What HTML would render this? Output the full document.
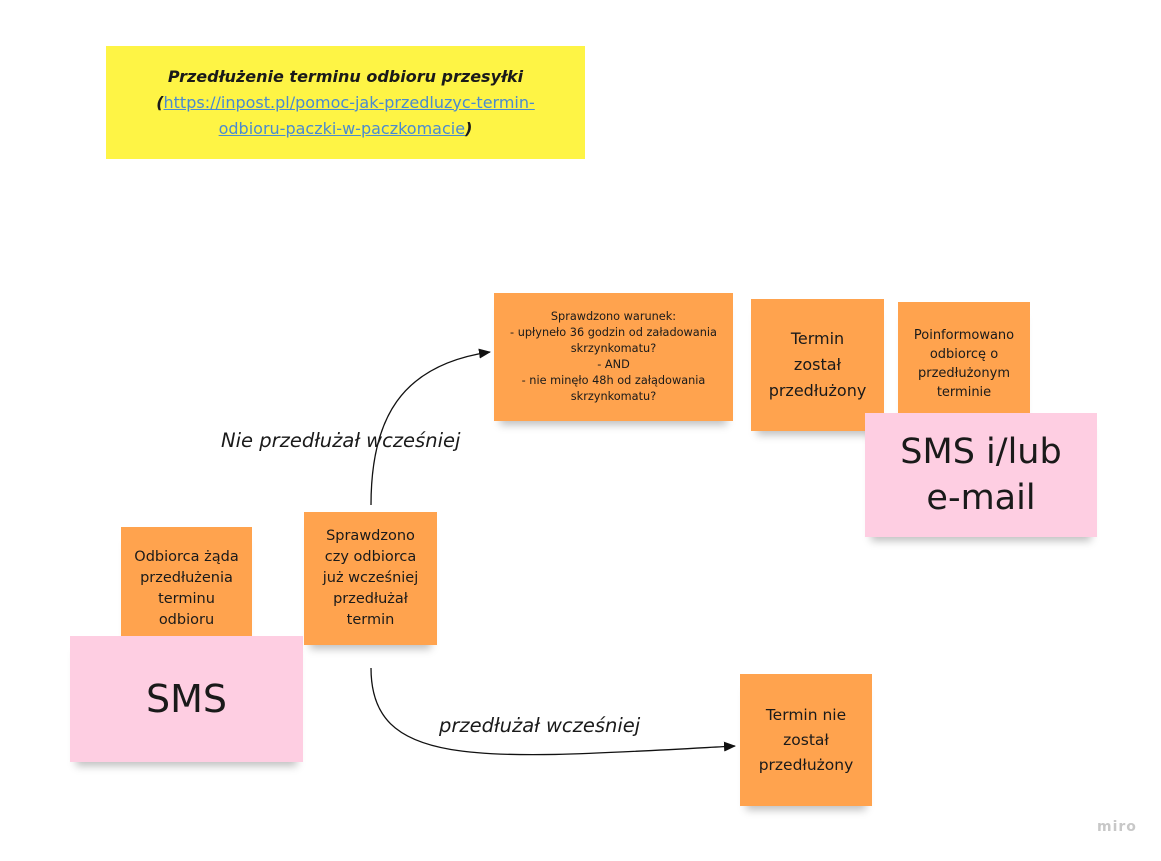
<!DOCTYPE html>
<html><head><meta charset="utf-8"><style>
body{margin:0;width:1161px;height:861px;background:#fff;position:relative;overflow:hidden;font-family:"DejaVu Sans","Liberation Sans",sans-serif;}
.n{position:absolute;display:flex;align-items:center;justify-content:center;text-align:center;color:#1a1a1a;box-shadow:0 10px 8px -6px rgba(0,0,0,0.25);box-sizing:border-box;}
.o{background:#ffa34e;font-size:14.5px;line-height:21px;}
.p{background:#fecee2;}
.l{position:absolute;font-style:italic;font-size:19.5px;color:#1a1a1a;white-space:nowrap;}
</style></head><body>
<div class="n" style="left:106px;top:46px;width:479px;height:113px;background:#fef445;box-shadow:none;font-size:16px;line-height:26px;padding:0 20px;">
<div><b><i>Przedłużenie terminu odbioru przesyłki</i></b><br><b><i>(</i></b><span style="color:#4a8ad0;text-decoration:underline">https://inpost.pl/pomoc-jak-przedluzyc-termin-<br>odbioru-paczki-w-paczkomacie</span><b><i>)</i></b></div></div>

<div class="n o" style="left:494px;top:293px;width:239px;height:128px;font-size:11.3px;line-height:16px;">Sprawdzono warunek:<br>- upłyneło 36 godzin od załadowania<br>skrzynkomatu?<br>- AND<br>- nie minęło 48h od załądowania<br>skrzynkomatu?</div>
<div class="n o" style="left:751px;top:299px;width:133px;height:132px;font-size:16px;line-height:26px;">Termin<br>został<br>przedłużony</div>
<div class="n o" style="left:898px;top:302px;width:132px;height:120px;font-size:13px;line-height:19px;align-items:flex-start;padding-top:24px;">Poinformowano<br>odbiorcę o<br>przedłużonym<br>terminie</div>
<div class="n p" style="left:865px;top:413px;width:232px;height:124px;font-size:35px;line-height:46px;">SMS i/lub<br>e-mail</div>

<div class="n o" style="left:121px;top:527px;width:131px;height:118px;align-items:flex-start;padding-top:20px;">Odbiorca żąda<br>przedłużenia<br>terminu<br>odbioru</div>
<div class="n p" style="left:70px;top:636px;width:233px;height:126px;font-size:38px;">SMS</div>
<div class="n o" style="left:304px;top:512px;width:133px;height:133px;">Sprawdzono<br>czy odbiorca<br>już wcześniej<br>przedłużał<br>termin</div>
<div class="n o" style="left:740px;top:674px;width:132px;height:132px;font-size:15.5px;line-height:25px;">Termin nie<br>został<br>przedłużony</div>

<svg style="position:absolute;left:0;top:0" width="1161" height="861">
<defs><marker id="a" markerWidth="12" markerHeight="10" refX="11" refY="5" orient="auto" markerUnits="userSpaceOnUse"><path d="M0,0 L12,5 L0,10 Z" fill="#111"/></marker></defs>
<path d="M371,505 C371,420 400,365 490,352" fill="none" stroke="#111" stroke-width="1.3" marker-end="url(#a)"/>
<path d="M371,668 C371,770 480,760 735,746" fill="none" stroke="#111" stroke-width="1.3" marker-end="url(#a)"/>
</svg>
<div class="l" style="left:221px;top:429px;">Nie przedłużał wcześniej</div>
<div class="l" style="left:439px;top:714px;">przedłużał wcześniej</div>
<div style="position:absolute;left:1097px;top:819px;color:#c8c8c8;font-size:14px;font-weight:bold;letter-spacing:1px;">miro</div>
</body></html>
